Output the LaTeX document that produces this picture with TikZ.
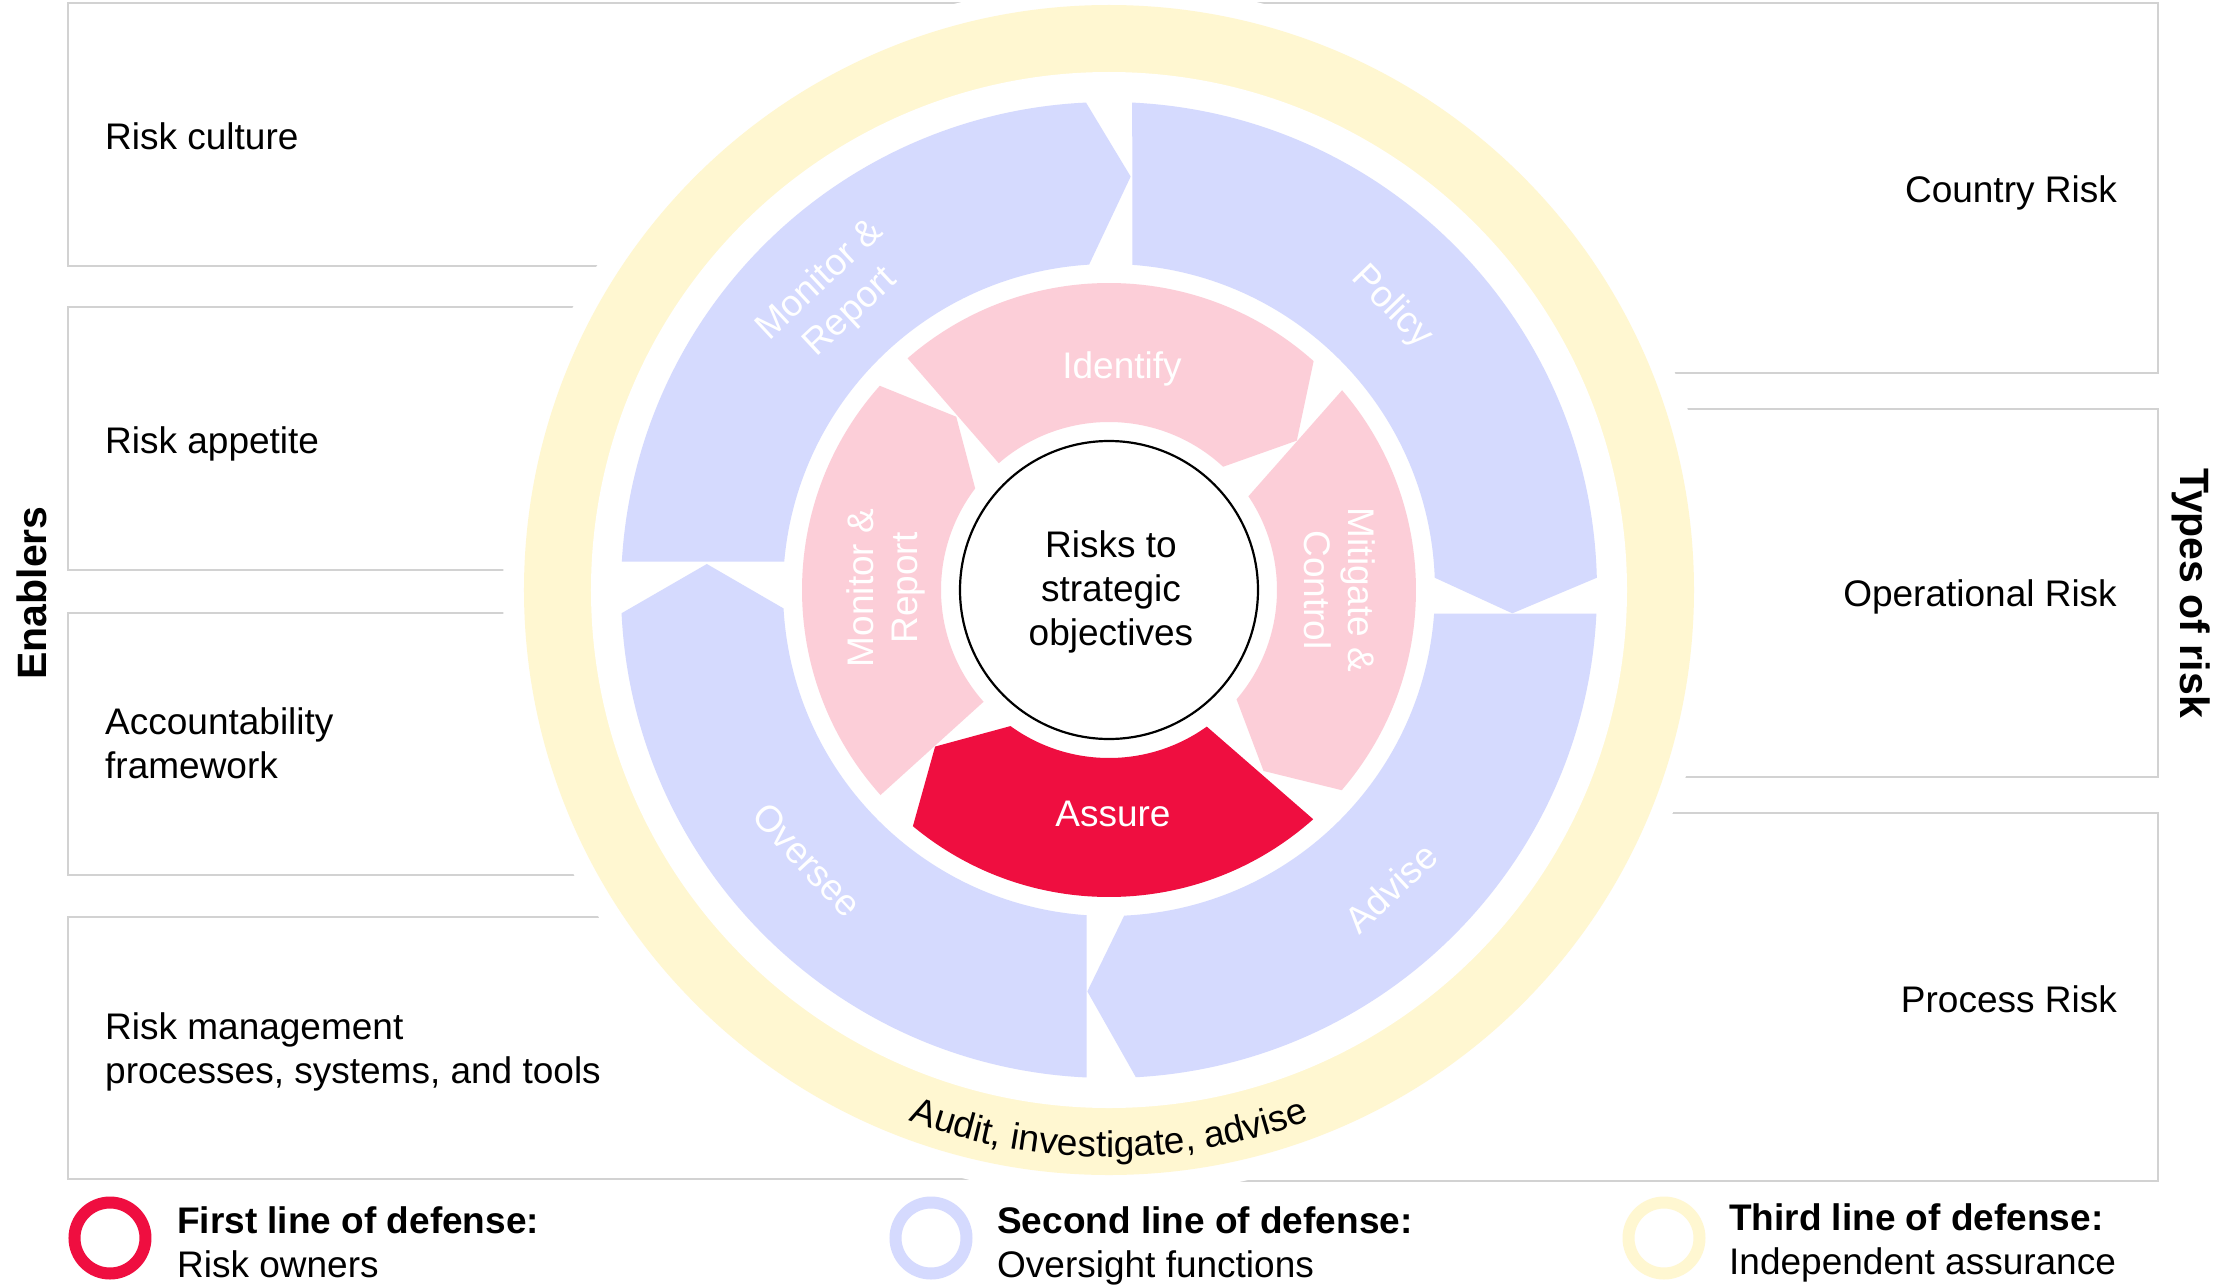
\documentclass[tikz,border=0pt]{standalone}
\usepackage{fontspec}
\setmainfont{Liberation Sans}
\usetikzlibrary{decorations.text}
\definecolor{bluefill}{RGB}{213,218,254}
\definecolor{pinkfill}{RGB}{252,206,216}
\definecolor{assurered}{RGB}{239,14,64}
\definecolor{yellowfill}{RGB}{255,247,209}
\definecolor{boxgray}{RGB}{210,210,210}
\newcommand{\bodyfont}{\fontsize{37}{44}\selectfont}
\newcommand{\sidefont}{\bfseries\fontsize{41}{48}\selectfont}
\begin{document}
\begin{tikzpicture}[x=1pt,y=1pt,
  boxline/.style={draw=boxgray,line width=2.5pt},
  bodytext/.style={font=\bodyfont,inner sep=0pt},
  boldtext/.style={font=\bfseries\bodyfont,inner sep=0pt},
  whitelabel/.style={font=\bodyfont,text=white,inner sep=0pt,align=center},
  legendring/.style={circle,line width=12pt,minimum size=71pt,inner sep=0pt}]
\useasboundingbox (-1109,-696) rectangle (1125,590);
\fill[white] (-1109,-696) rectangle (1125,590);
% text boxes
\draw[boxline] (-1041,587) rectangle (0,324);
\draw[boxline] (-1041,283) rectangle (0,20);
\draw[boxline] (-1041,-23) rectangle (0,-285);
\draw[boxline] (-1041,-327) rectangle (0,-589);
\draw[boxline] (0,587) rectangle (1049,217);
\draw[boxline] (0,181) rectangle (1049,-187);
\draw[boxline] (0,-223) rectangle (1049,-591);
% white disk and yellow ring
\fill[white] (0,0) circle[radius=606pt];
\fill[yellowfill] (0,0) circle[radius=585pt];
\fill[white] (0,0) circle[radius=518pt];
% blue ring (second line)
\fill[bluefill] (176.68:488pt) arc[start angle=176.68,end angle=92.7,radius=488pt] -- (87.0:414pt) -- (93.5:326pt) arc[start angle=93.5,end angle=175.0,radius=326pt] -- cycle;
\fill[bluefill] (87.27:488pt) arc[start angle=87.27,end angle=1.44,radius=488pt] -- (-3.31:404pt) -- (2.16:326pt) arc[start angle=2.16,end angle=85.9,radius=326pt] -- cycle;
\fill[bluefill] (-2.78:488pt) arc[start angle=-2.78,end angle=-86.84,radius=488pt] -- (-93.09:402pt) -- (-87.32:326pt) arc[start angle=-87.32,end angle=-4.17,radius=326pt] -- cycle;
\fill[bluefill] (267.38:488pt) arc[start angle=267.38,end angle=182.73,radius=488pt] -- (176.3:403pt) -- (183.24:326pt) arc[start angle=183.24,end angle=266.08,radius=326pt] -- cycle;
% pink ring (first line)
\fill[pinkfill] (131:307pt) arc[start angle=131,end angle=48.2,radius=307pt] -- (38.5:240pt) -- (47.2:168pt) arc[start angle=47.2,end angle=131,radius=168pt] -- cycle;
\fill[pinkfill] (40.6:307pt) arc[start angle=40.6,end angle=-40.7,radius=307pt] -- (-49.5:238pt) -- (-40.6:168pt) arc[start angle=-40.6,end angle=33.9,radius=168pt] -- cycle;
\fill[assurered] (-48.3:307pt) arc[start angle=-48.3,end angle=-129.7,radius=307pt] -- (-138:234pt) -- (-125.9:168pt) arc[start angle=-125.9,end angle=-54.4,radius=168pt] -- cycle;
\fill[pinkfill] (221.9:307pt) arc[start angle=221.9,end angle=138.3,radius=307pt] -- (131.4:231pt) -- (142.8:168pt) arc[start angle=142.8,end angle=221.7,radius=168pt] -- cycle;
% centre
\draw[line width=2.2pt,fill=white] (0,0) circle[radius=149pt];
\node[bodytext,align=center] (ctr) at (2,-2) {Risks to\\strategic\\objectives};
% ring labels
\node[whitelabel,anchor=base] (ident) at (13,211.8) {Identify};
\node[whitelabel,anchor=base] (assure) at (4,-236.3) {Assure};
\node[whitelabel,rotate=90] (pmr) at (-223,2) {Monitor \&\\Report};
\node[whitelabel,rotate=-90] (pmc) at (231,0) {Mitigate \&\\Control};
\node[whitelabel,rotate=43] (bmr) at (133:401pt) {Monitor \&\\Report};
\node[whitelabel,rotate=-46] (bpol) at (45:400pt) {Policy};
\node[whitelabel,rotate=43] (badv) at (-46.6:410pt) {Advise};
\node[whitelabel,rotate=-47] (bovs) at (221.8:405pt) {Oversee};
\path[decorate,decoration={text along path,text align=center,text={|\bodyfont|Audit, investigate, advise}}] (-125:567pt) arc[start angle=-125,end angle=-55,radius=567pt];
% box texts
\node[bodytext,anchor=base west] (t1) at (-1004,440) {Risk culture};
\node[bodytext,anchor=base west] (t2) at (-1004,137) {Risk appetite};
\node[bodytext,anchor=west,align=left] (t3) at (-1004,-153.5) {Accountability\\framework};
\node[bodytext,anchor=west,align=left] (t4) at (-1004,-462) {Risk management\\processes, systems, and tools};
\node[bodytext,anchor=base east] (r1) at (1008,387) {Country Risk};
\node[bodytext,anchor=base east] (r2) at (1008,-16.5) {Operational Risk};
\node[bodytext,anchor=base east] (r3) at (1008,-422) {Process Risk};
\node[font=\sidefont,rotate=90,inner sep=0pt] (enab) at (-1077,-3) {Enablers};
\node[font=\sidefont,rotate=-90,inner sep=0pt] (types) at (1082,-3) {Types of risk};
% legend
\node[legendring,draw=assurered] (lg1) at (-999,-648) {};
\node[legendring,draw=bluefill] (lg2) at (-178,-648) {};
\node[legendring,draw=yellowfill] (lg3) at (555,-648) {};
\node[boldtext,anchor=base west] (l1a) at (-932,-643) {First line of defense:};
\node[bodytext,anchor=base west] (l1b) at (-932,-687) {Risk owners};
\node[boldtext,anchor=base west] (l2a) at (-112,-643) {Second line of defense:};
\node[bodytext,anchor=base west] (l2b) at (-112,-687) {Oversight functions};
\node[boldtext,anchor=base west] (l3a) at (620,-640) {Third line of defense:};
\node[bodytext,anchor=base west] (l3b) at (620,-684) {Independent assurance};
\end{tikzpicture}
\end{document}
